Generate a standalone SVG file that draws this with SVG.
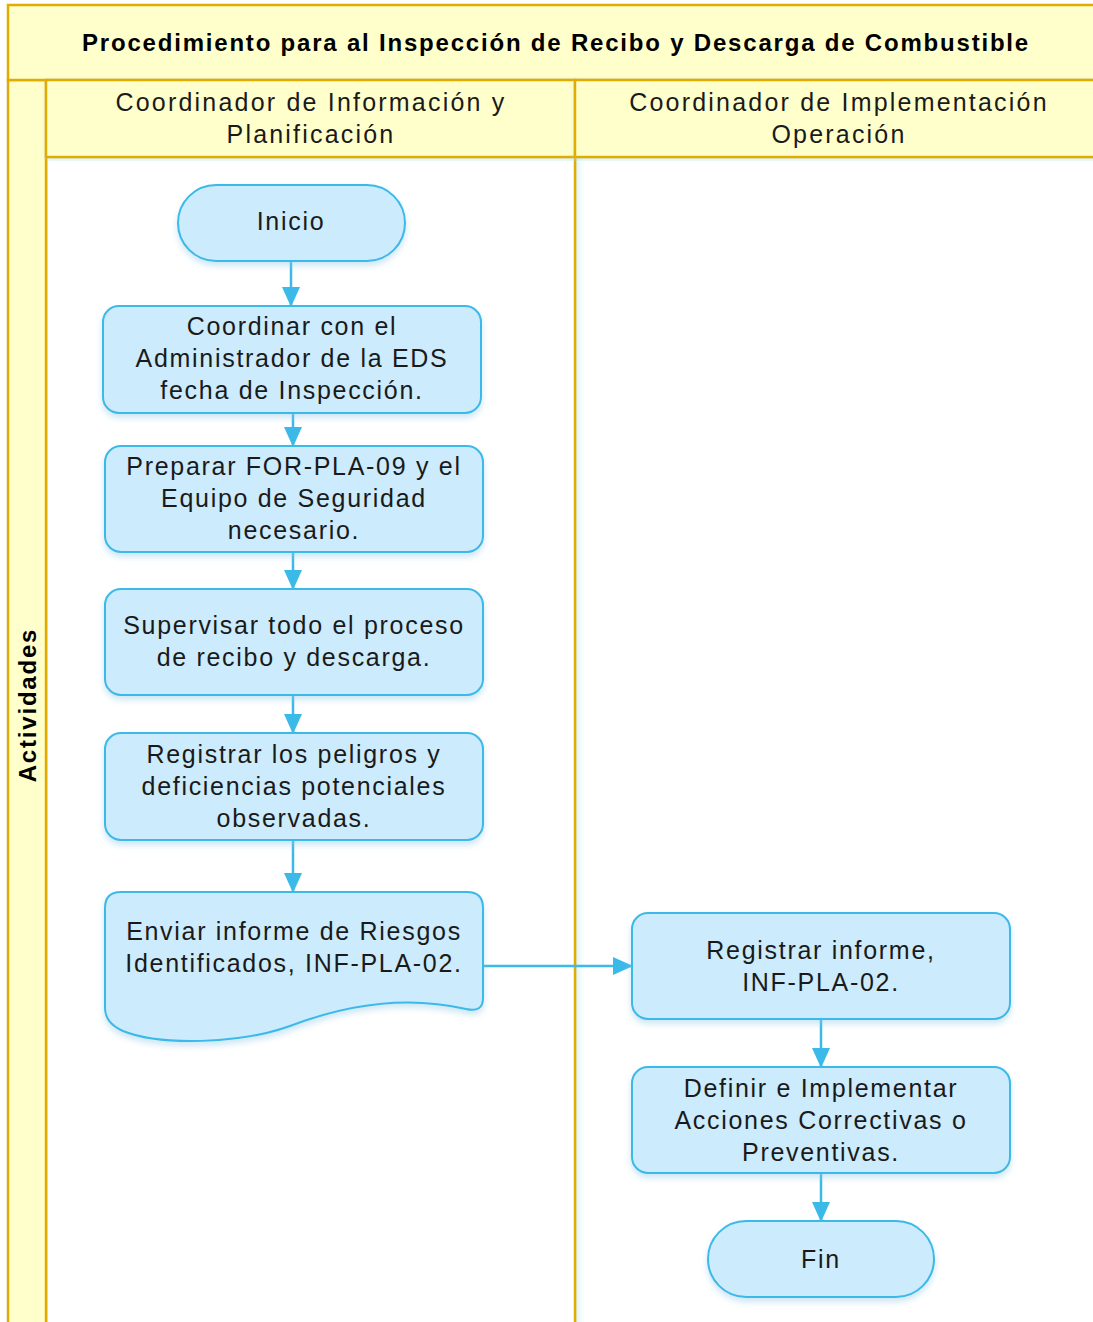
<svg xmlns="http://www.w3.org/2000/svg" width="1093" height="1322" viewBox="0 0 1093 1322">
  <defs>
    <style>
      .lane { fill: #FFFFCC; stroke: #E0AC00; stroke-width: 2.5; }
      .body { fill: #FFFFFF; stroke: #E0AC00; stroke-width: 2.5; }
      .node { fill: #CCEBFC; stroke: #3BB9E8; stroke-width: 2; filter: url(#shadow); }
      .txt { font-family: "Century Gothic", "Liberation Sans", Arial, sans-serif; font-size: 25px; fill: #1a1a1a; text-anchor: middle; dominant-baseline: central; letter-spacing: 1.7px; }
      .hdr { font-family: "Century Gothic", "Liberation Sans", Arial, sans-serif; font-size: 25px; fill: #1a1a1a; text-anchor: middle; dominant-baseline: central; letter-spacing: 2.2px; }
      .title { font-family: "Century Gothic", "Liberation Sans", Arial, sans-serif; font-size: 24px; font-weight: bold; fill: #000; text-anchor: middle; dominant-baseline: central; letter-spacing: 1.8px; }
      .edge { fill: none; stroke: #3BB9E8; stroke-width: 2.5; marker-end: url(#arrow); }
    </style>
    <filter id="shadow" x="-10%" y="-10%" width="120%" height="140%">
      <feDropShadow dx="0" dy="4" stdDeviation="3" flood-color="#8fc9e6" flood-opacity="0.45"/>
    </filter>
    <filter id="glow" x="-5%" y="-5%" width="110%" height="110%">
      <feDropShadow dx="2" dy="2" stdDeviation="3" flood-color="#9fe3d6" flood-opacity="0.5"/>
    </filter>
    <marker id="arrow" markerWidth="20" markerHeight="18" refX="19" refY="9" orient="auto" markerUnits="userSpaceOnUse" viewBox="0 0 20 18">
      <path d="M0,0 L20,9 L0,18 Z" fill="#3BB9E8"/>
    </marker>
  </defs>

  <!-- swimlane frame -->
  <g id="pool">
    <rect class="body" x="575" y="157" width="530" height="1180" filter="url(#glow)"/>
    <rect class="body" x="46" y="157" width="529" height="1180" filter="url(#glow)"/>
    <rect class="lane" x="8" y="80" width="38" height="1257" filter="url(#glow)"/>
    <rect class="lane" x="8" y="5" width="1097" height="75"/>
    <rect class="lane" x="46" y="80" width="529" height="77" filter="url(#glow)"/>
    <rect class="lane" x="575" y="80" width="530" height="77" filter="url(#glow)"/>
    <text class="title" x="556" y="42">Procedimiento para al Inspección de Recibo y Descarga de Combustible</text>
    <text class="hdr" x="311" y="102">Coordinador de Información y</text>
    <text class="hdr" x="311" y="134">Planificación</text>
    <text class="hdr" x="839" y="102">Coordinador de Implementación</text>
    <text class="hdr" x="839" y="134">Operación</text>
    <text class="title" transform="translate(27,705) rotate(-90)" x="0" y="0">Actividades</text>
  </g>

  <!-- connectors -->
  <g id="connectors">
    <path class="edge" d="M291,261 V306"/>
    <path class="edge" d="M293,413 V446"/>
    <path class="edge" d="M293,552 V589"/>
    <path class="edge" d="M293,695 V733"/>
    <path class="edge" d="M293,840 V892"/>
    <path class="edge" d="M483,966 H632"/>
    <path class="edge" d="M821,1019 V1067"/>
    <path class="edge" d="M821,1173 V1221"/>
  </g>

  <!-- process nodes -->
  <g id="inicio">
    <rect class="node" x="178" y="185" width="227" height="76" rx="38"/>
    <text class="txt" x="291" y="221">Inicio</text>
  </g>
  <g id="coordinar">
    <rect class="node" x="103" y="306" width="378" height="107" rx="16"/>
    <text class="txt" x="292" y="326">Coordinar con el</text>
    <text class="txt" x="292" y="358">Administrador de la EDS</text>
    <text class="txt" x="292" y="390">fecha de Inspección.</text>
  </g>
  <g id="preparar">
    <rect class="node" x="105" y="446" width="378" height="106" rx="16"/>
    <text class="txt" x="294" y="466">Preparar FOR-PLA-09 y el</text>
    <text class="txt" x="294" y="498">Equipo de Seguridad</text>
    <text class="txt" x="294" y="530">necesario.</text>
  </g>
  <g id="supervisar">
    <rect class="node" x="105" y="589" width="378" height="106" rx="16"/>
    <text class="txt" x="294" y="625">Supervisar todo el proceso</text>
    <text class="txt" x="294" y="657">de recibo y descarga.</text>
  </g>
  <g id="registrar-peligros">
    <rect class="node" x="105" y="733" width="378" height="107" rx="16"/>
    <text class="txt" x="294" y="754">Registrar los peligros y</text>
    <text class="txt" x="294" y="786">deficiencias potenciales</text>
    <text class="txt" x="294" y="818">observadas.</text>
  </g>
  <g id="enviar-informe">
    <path class="node" d="M105,908 Q105,892 121,892 H467 Q483,892 483,908 V998 Q483,1013 466,1009 C410,996 350,1003 290,1026 C240,1044 160,1046 123,1031 Q105,1023 105,1008 Z"/>
    <text class="txt" x="294" y="931">Enviar informe de Riesgos</text>
    <text class="txt" x="294" y="963">Identificados, INF-PLA-02.</text>
  </g>
  <g id="registrar-informe">
    <rect class="node" x="632" y="913" width="378" height="106" rx="16"/>
    <text class="txt" x="821" y="950">Registrar informe,</text>
    <text class="txt" x="821" y="982">INF-PLA-02.</text>
  </g>
  <g id="definir">
    <rect class="node" x="632" y="1067" width="378" height="106" rx="16"/>
    <text class="txt" x="821" y="1088">Definir e Implementar</text>
    <text class="txt" x="821" y="1120">Acciones Correctivas o</text>
    <text class="txt" x="821" y="1152">Preventivas.</text>
  </g>
  <g id="fin">
    <rect class="node" x="708" y="1221" width="226" height="76" rx="38"/>
    <text class="txt" x="821" y="1259">Fin</text>
  </g>
</svg>
